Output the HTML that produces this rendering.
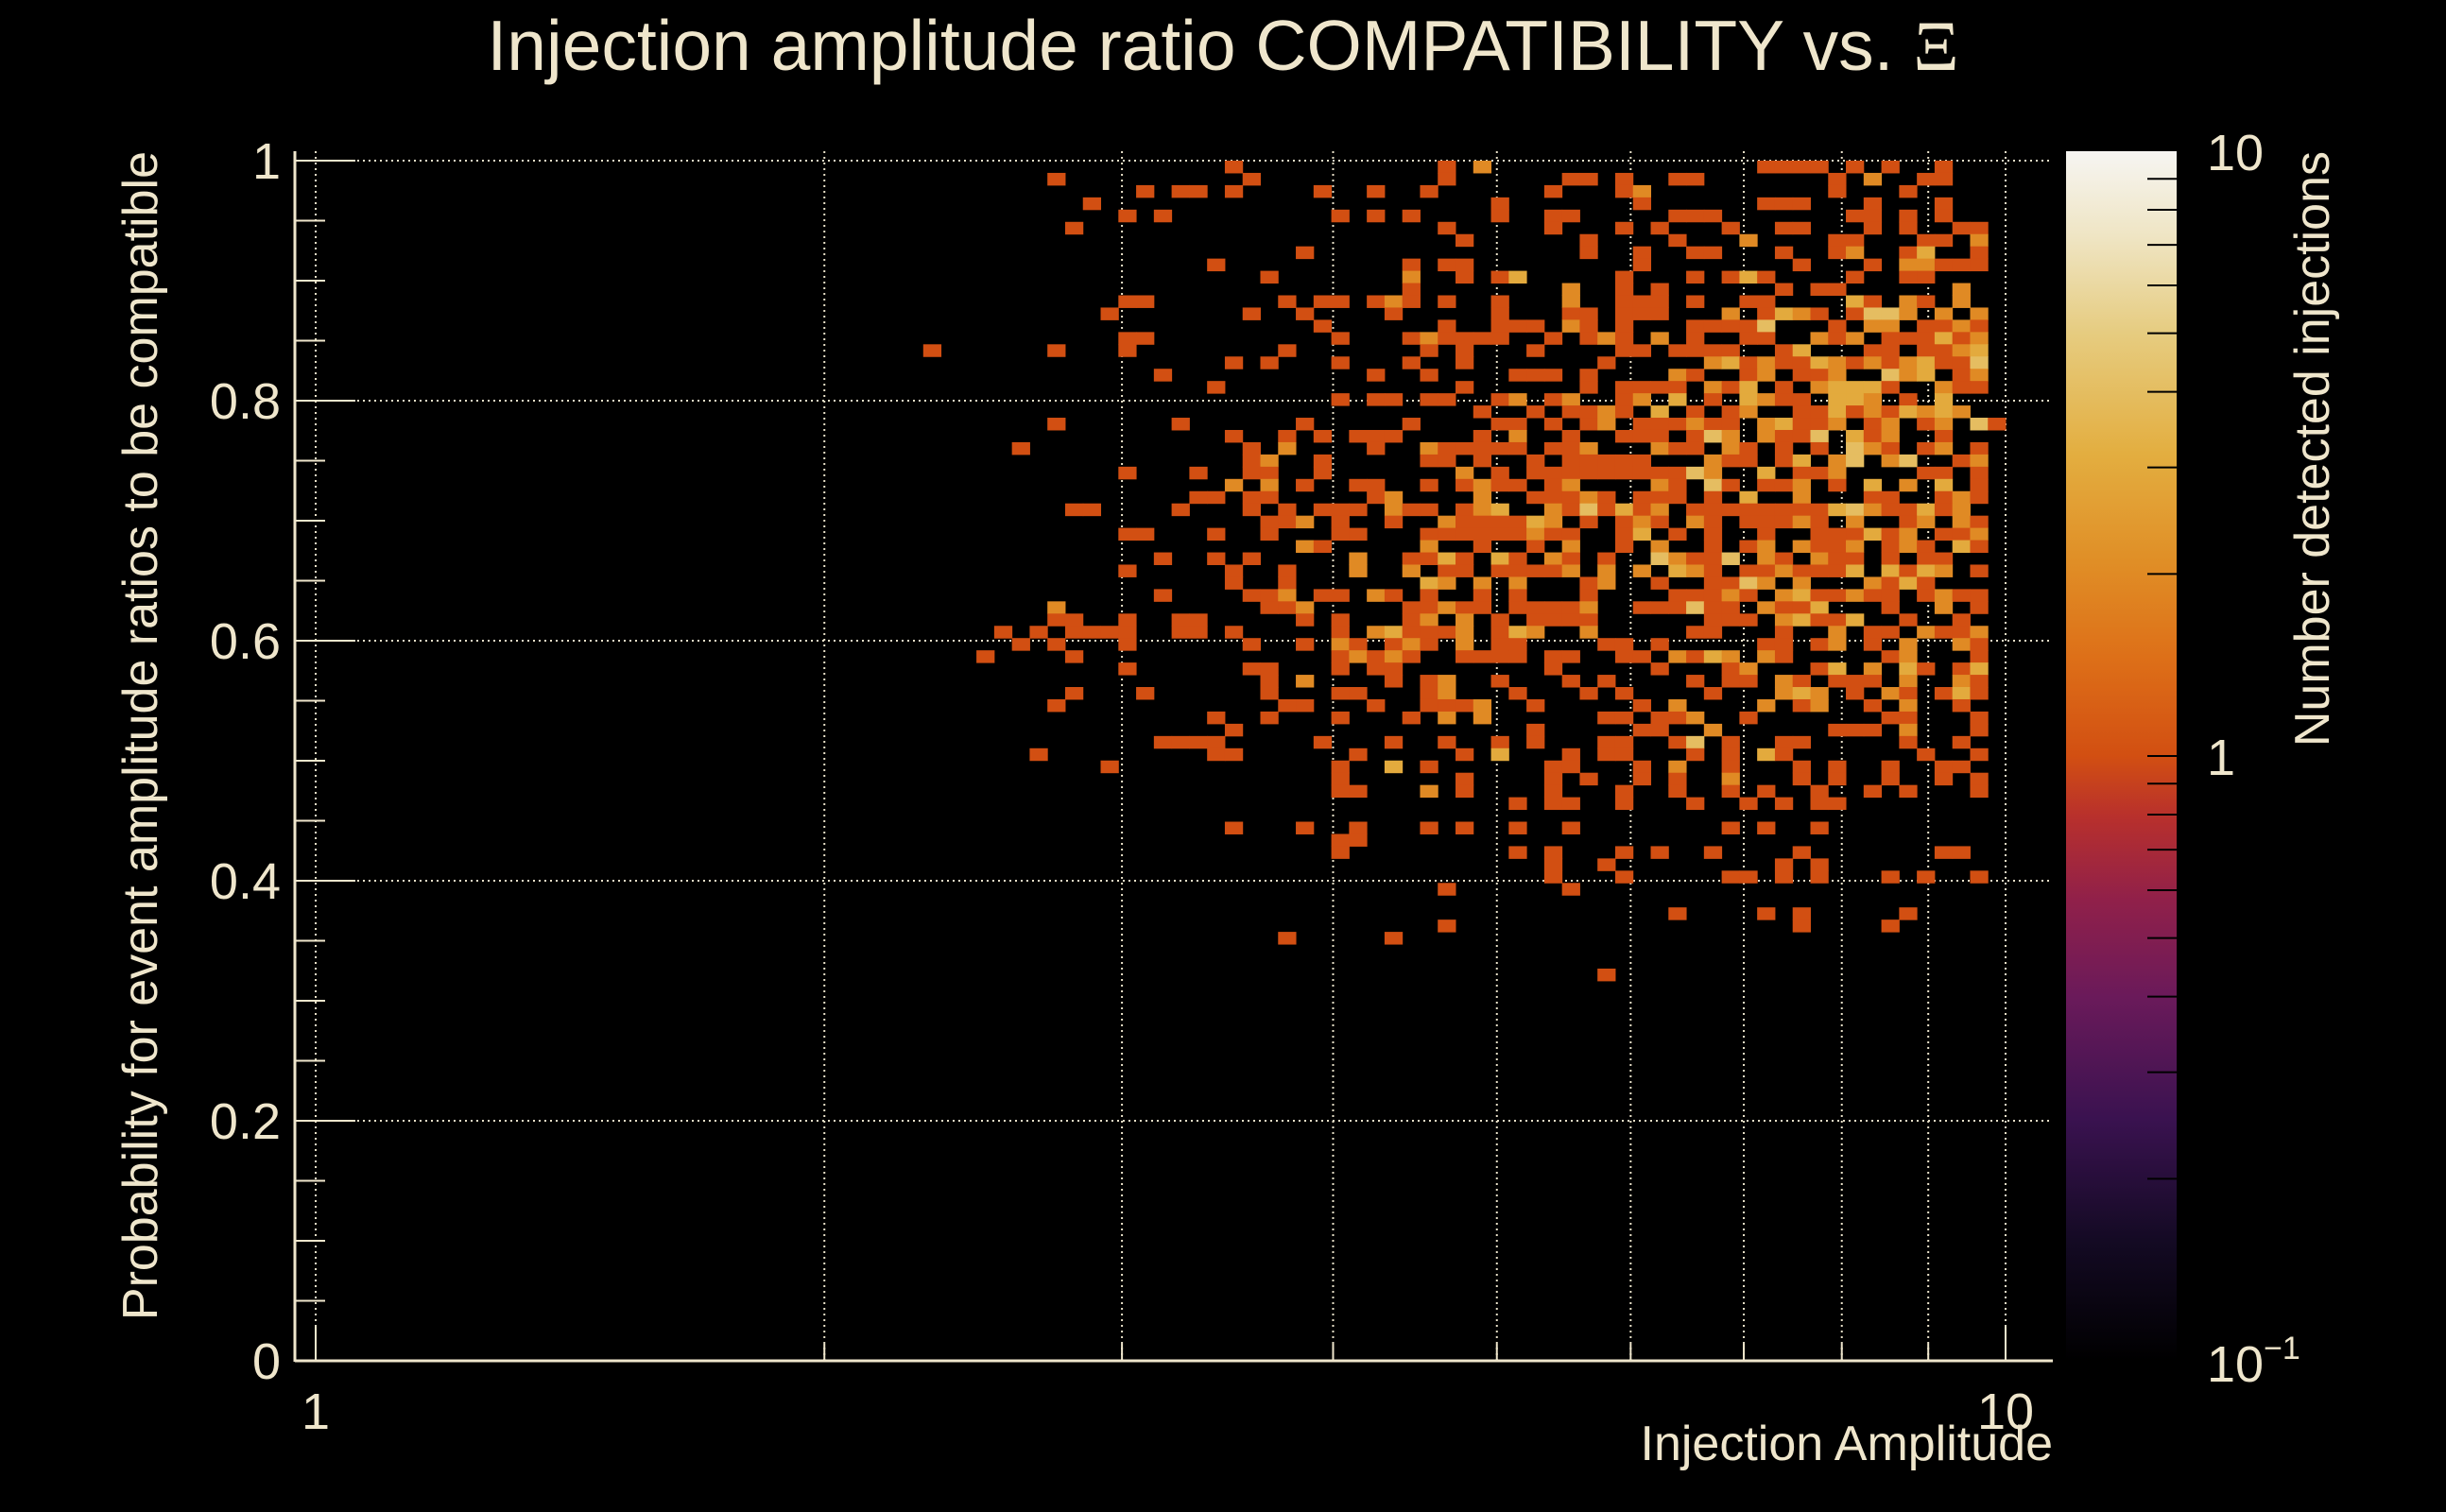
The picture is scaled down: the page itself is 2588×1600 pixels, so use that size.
<!DOCTYPE html>
<html><head><meta charset="utf-8"><style>
html,body{margin:0;padding:0;background:#000;}
svg{display:block;}
text{font-family:"Liberation Sans",sans-serif;fill:#efe6cc;}
</style></head><body>
<svg id="chart" xmlns="http://www.w3.org/2000/svg" width="2588" height="1600" viewBox="0 0 2588 1600">
<defs>
<linearGradient id="pal" x1="0" y1="1" x2="0" y2="0">
<stop offset="0" stop-color="#000000"/><stop offset="0.1" stop-color="#140a24"/><stop offset="0.2" stop-color="#3a1250"/>
<stop offset="0.3" stop-color="#6a1a5a"/><stop offset="0.38" stop-color="#90204a"/><stop offset="0.45" stop-color="#b8302c"/>
<stop offset="0.5" stop-color="#d24f12"/><stop offset="0.58" stop-color="#dd6f18"/><stop offset="0.66" stop-color="#e08e26"/>
<stop offset="0.75" stop-color="#e3ae40"/><stop offset="0.85" stop-color="#e6cc80"/><stop offset="0.93" stop-color="#efe5c4"/>
<stop offset="1" stop-color="#f6f5f2"/>
</linearGradient>
</defs>
<rect x="0" y="0" width="2588" height="1600" fill="#000"/>
<g id="grid"></g>
<g id="cells"></g>
<g id="axes"></g>
<text x="1294" y="74" font-size="75" text-anchor="middle">Injection amplitude ratio COMPATIBILITY vs.  <tspan font-family="Liberation Serif, serif">Ξ</tspan></text>
<text x="2172" y="1545" font-size="52" text-anchor="end">Injection Amplitude</text>
<text transform="translate(166,160) rotate(-90)" font-size="52" text-anchor="end">Probability for event amplitude ratios to be compatible</text>
<rect x="2186" y="160" width="117" height="1280" fill="url(#pal)"/>
<g id="cbticks"></g>
<text x="2335" y="180" font-size="54">10</text>
<text x="2335" y="820" font-size="54">1</text>
<text x="2335" y="1462" font-size="54">10<tspan font-size="34" dy="-24">−1</tspan></text>
<text transform="translate(2464,160) rotate(-90)" font-size="52" text-anchor="end">Number detected injections</text>
</svg>
<script>
// ---- data ----
const yTickValues = [0, 0.2, 0.4, 0.6, 0.8, 1];
const yTickLabels = ["0", "0.2", "0.4", "0.6", "0.8", "1"];
const xMajorValues = [1, 10];
const xMajorLabels = ["1", "10"];
const xGridValues = [1, 2, 3, 4, 5, 6, 7, 8, 9, 10];
const cbTickValues = [0.2,0.3,0.4,0.5,0.6,0.7,0.8,0.9,1,2,3,4,5,6,7,8,9];
// histogram binning (log10 x bins, linear y bins)
const xBinLog0 = 0.0025, xBinLogW = 0.0105;
const yBinTop = 1.0, yBinH = 0.0102;
// rowBins[m] = x-bin indices with entries in y-row m (row 0 at top); default count 1
const rowBins = [
[51,63,65,81,82,83,84,86,88,91],
[41,52,63,70,71,73,76,77,85,87,90,91],
[46,48,49,51,56,59,62,69,73,74,85,89],
[43,66,74,81,82,83,87,91],
[45,47,57,59,61,66,69,70,76,77,78,86,87,89,91],
[42,63,69,73,75,79,82,83,87,89,92,93],
[64,71,76,80,85,86,90,91,93],
[55,71,74,77,78,82,85,86,89,90,93],
[50,61,63,64,74,83,87,89,90,91,92,93],
[53,61,64,66,67,73,77,79,80,81,86,89,90],
[61,70,73,75,82,84,85,92],
[45,46,54,56,57,59,60,61,63,66,70,73,74,75,77,80,81,86,87,89,90,92],
[44,52,55,60,66,70,71,73,74,75,79,81,82,83,84,86,87,88,89,91,93],
[56,63,66,67,68,70,71,73,77,78,79,80,81,85,87,88,90,91,92,93],
[45,46,57,61,62,63,64,65,66,69,71,72,73,75,77,80,81,84,85,86,88,89,90,91,92,93],
[34,41,45,54,62,64,68,73,74,76,77,78,79,82,83,87,88,90,91,92,93],
[51,53,57,61,64,72,78,79,80,81,82,83,84,85,86,87,88,89,90,91,92,93],
[47,59,62,67,68,69,71,76,77,80,81,83,84,85,88,89,90,92,93],
[50,64,71,73,74,75,76,78,79,80,82,84,85,86,87,88,91,92,93],
[57,59,60,62,63,66,67,69,70,73,74,76,78,80,81,82,83,85,86,87,89,91],
[65,68,70,71,72,73,75,77,79,80,83,84,85,86,87,88,89,90,91,92],
[41,48,55,61,66,67,69,71,72,74,75,76,77,78,79,81,82,83,84,85,87,88,90,91,93,94],
[51,54,56,58,59,60,65,67,70,73,74,75,77,78,79,81,82,83,84,86,87,88,91],
[39,52,54,59,62,63,64,65,66,67,69,70,71,75,76,77,79,80,82,84,86,87,88,90,91,93],
[52,53,56,62,63,65,68,70,71,72,73,74,78,79,80,82,83,85,86,88,89,92,93],
[45,49,52,53,56,64,66,68,69,70,71,72,73,74,75,76,77,78,81,83,84,85,90,91,93],
[51,53,55,58,59,62,64,65,66,67,69,70,75,76,78,79,81,82,83,85,87,89,91,93],
[49,50,52,53,59,60,65,68,69,70,71,72,74,75,76,78,80,83,87,88,91,92,93],
[42,43,48,52,54,56,57,58,60,61,62,64,65,66,69,70,71,72,73,74,75,77,78,79,80,81,82,83,84,85,86,87,88,89,90,91,92],
[53,54,55,57,60,63,64,65,66,67,68,69,71,73,74,75,77,78,80,81,82,83,84,86,89,90,92,93],
[45,46,50,53,57,58,62,63,64,65,66,67,68,69,70,73,74,76,78,81,84,85,86,87,88,89,91,92,93],
[55,56,62,65,68,70,73,75,78,80,81,83,84,85,86,88,89,90,92,93],
[47,50,52,58,61,62,63,64,66,67,69,70,72,75,76,77,78,79,81,82,84,85,86,88,90,91],
[45,51,54,58,61,63,64,66,67,68,69,70,72,74,76,77,78,80,81,82,83,84,85,86,88,89,90,91,93],
[51,54,62,63,65,67,71,72,75,78,79,80,81,83,87,88,89,90],
[47,52,53,54,56,57,59,60,62,65,67,71,76,77,78,79,80,82,83,84,85,86,87,88,90,91,92,93],
[41,53,54,55,61,62,63,64,65,67,68,69,70,71,74,75,76,77,78,79,81,82,83,84,88,91,93],
[41,42,45,48,49,55,57,61,62,64,66,68,69,70,71,78,79,80,82,83,84,85,86,89,92],
[38,40,42,43,44,45,48,49,51,57,59,60,61,62,63,64,66,67,68,71,77,78,82,85,87,88,90,91,92,93],
[39,41,45,52,55,57,58,60,61,62,64,66,67,72,73,75,81,82,84,85,87,89,92,93],
[37,42,57,58,59,60,61,64,65,66,67,69,70,73,74,76,77,78,79,81,82,88,89,93],
[45,52,53,57,59,60,69,75,79,80,84,85,87,89,90,92,93],
[53,55,60,62,63,66,70,72,77,79,80,82,83,85,86,87,89,92,93],
[42,46,53,57,58,62,63,67,71,73,78,82,83,84,86,88,89,91,92,93],
[41,54,55,59,62,63,64,65,68,74,76,81,83,84,87,89,92],
[50,53,57,61,63,65,72,73,75,76,77,80,88,89,93],
[51,68,74,75,78,85,86,87,89,93],
[47,48,49,50,56,60,63,66,68,72,73,76,77,79,82,83,89,92],
[40,50,51,58,64,66,70,72,73,77,79,81,82,90,93],
[44,57,60,62,69,70,74,76,79,83,85,88,91,92],
[57,64,69,71,74,76,79,83,85,88,91,93],
[57,58,62,64,69,73,76,79,81,84,87,89,93],
[67,69,70,73,77,80,82,84,85],
[],
[51,55,58,62,64,67,70,79,81,84],
[57,58],
[57,67,69,73,75,78,83,91,92],
[69,72,82,84],
[69,73,79,80,82,84,88,90,93],
[63,70],
[],
[76,81,83,89],
[63,83,88],
[54,60],
[],
[],
[72]
];
// rowHot[m] = [xBin, count] pairs for cells with more than one entry
const rowHot = [
[[65,2]],[[87,2]],[[74,2]],[],[],[],
[[80,2],[93,2]],
[[86,2],[90,3]],
[[89,2],[90,2]],
[[61,2],[67,3],[80,3]],
[[70,2],[92,2]],
[[60,2],[70,2],[86,3],[89,2],[92,2]],
[[79,2],[82,3],[83,2],[87,4],[88,4],[89,2],[91,2],[93,2]],
[[70,2],[81,4],[87,2],[88,2],[92,2]],
[[62,2],[72,2],[75,2],[84,2],[86,2],[91,3],[93,2]],
[[83,3],[92,2],[93,3]],
[[78,2],[79,3],[81,2],[84,3],[85,2],[87,2],[89,2],[90,3],[93,4]],
[[76,2],[81,2],[85,2],[88,4],[89,2],[90,3],[93,2]],
[[78,2],[80,3],[84,2],[85,3],[86,3],[87,3],[91,2]],
[[67,2],[70,2],[74,2],[76,3],[80,3],[81,2],[85,3],[86,3],[87,2],[91,3]],
[[72,2],[75,3],[80,2],[85,3],[87,2],[89,3],[90,2],[91,3],[92,2]],
[[72,2],[77,2],[81,2],[82,3],[85,2],[88,2],[91,2],[93,4]],
[[67,2],[78,4],[79,2],[81,2],[84,4],[86,3],[88,2]],
[[54,2],[62,2],[71,2],[75,2],[79,2],[86,4],[87,2],[91,2]],
[[53,2],[78,2],[83,3],[85,2],[86,4],[88,2],[89,4],[93,2]],
[[64,2],[77,4],[78,2],[81,3],[85,2]],
[[51,2],[53,2],[65,2],[70,2],[75,2],[78,4],[83,2],[87,3],[89,2],[91,3]],
[[60,2],[65,2],[71,2],[80,3],[83,2],[92,2]],
[[60,2],[65,2],[66,3],[69,2],[71,4],[73,3],[75,2],[85,3],[86,4],[87,2],[90,3],[92,2]],
[[55,2],[63,2],[68,3],[69,2],[74,2],[77,2],[83,2],[86,2],[90,2],[92,2]],
[[68,2],[74,3],[87,3],[89,2],[93,2]],
[[55,2],[62,2],[70,2],[75,2],[81,2],[83,2],[86,2],[89,2],[92,3]],
[[58,2],[63,3],[66,3],[69,2],[75,4],[76,2],[79,4],[81,2],[84,2]],
[[58,2],[61,2],[70,2],[72,2],[74,2],[76,3],[77,2],[82,2],[86,3],[88,3],[90,3],[91,2]],
[[62,3],[63,2],[65,2],[67,2],[72,2],[80,4],[81,2],[83,2],[87,2],[89,3]],
[[54,2],[59,2],[79,2],[82,2],[83,3],[86,2],[91,2]],
[[41,2],[55,2],[63,2],[71,2],[77,4],[81,2],[84,3],[91,2]],
[[62,2],[64,2],[82,2],[83,3],[86,3]],
[[59,2],[60,3],[64,2],[67,3],[68,2],[71,2],[85,2],[90,2],[93,2]],
[[57,2],[61,2],[64,2],[85,2],[89,2],[92,2]],
[[58,2],[60,2],[76,2],[78,3],[79,2],[81,2],[89,2]],
[[80,2],[85,3],[87,2],[89,3],[93,3]],
[[55,2],[63,2],[82,2],[89,2],[92,2]],
[[63,2],[82,2],[83,3],[84,2],[88,2],[92,3]],
[[65,2],[76,2],[81,2],[84,2],[89,2]],
[[63,2],[65,2],[77,2]],
[[78,2],[89,2]],
[[77,4]],
[[66,3],[81,3]],
[[60,3],[76,2]],
[[79,2]],
[[62,2]]
];

// ---- scales ----
const NS = "http://www.w3.org/2000/svg";
const X0 = 334, XDEC = 1788;
const Y0 = 1440, YUNIT = 1270;
const FL = 312, FR = 2172, FT = 160, FB = 1440;
const CB_TOP = 160, CB_BOT = 1440, CB_L = 2186, CB_R = 2303;
function xLogPx(lg){ return X0 + XDEC * lg; }
function xPx(v){ return xLogPx(Math.log10(v)); }
function yPx(v){ return Y0 - YUNIT * v; }
function cbPx(v){ return CB_BOT - (Math.log10(v) + 1) / 2 * (CB_BOT - CB_TOP); }
const palStops = [[0,"#000000"],[0.1,"#140a24"],[0.2,"#3a1250"],[0.3,"#6a1a5a"],[0.38,"#90204a"],[0.45,"#b8302c"],[0.5,"#d24f12"],[0.58,"#dd6f18"],[0.66,"#e08e26"],[0.75,"#e3ae40"],[0.85,"#e6cc80"],[0.93,"#efe5c4"],[1,"#f6f5f2"]];
function hex(h){ return [1,3,5].map(i=>parseInt(h.substr(i,2),16)); }
function colorFor(c){
  let f = Math.max(0, Math.min(1, (Math.log10(c) + 1) / 2));
  for (let k = 1; k < palStops.length; k++){
    if (f <= palStops[k][0]){
      const a = palStops[k-1], b = palStops[k];
      const t = (f - a[0]) / (b[0] - a[0]);
      const ca = hex(a[1]), cb = hex(b[1]);
      return "rgb(" + ca.map((v,i)=>Math.round(v + (cb[i]-v)*t)).join(",") + ")";
    }
  }
  return palStops[palStops.length-1][1];
}
function mk(tag, attrs, parent){
  const e = document.createElementNS(NS, tag);
  for (const k in attrs) e.setAttribute(k, attrs[k]);
  parent.appendChild(e);
  return e;
}

// ---- grid ----
const grid = document.getElementById("grid");
xGridValues.forEach(v=>{
  const l = mk("line",{x1:xPx(v),x2:xPx(v),y1:FT,y2:FB,stroke:"#e8e0c8","stroke-width":2,"stroke-dasharray":"2 4"},grid);
  
  
});
yTickValues.slice(1).forEach(v=>{
  const l = mk("line",{x1:FL,x2:FR,y1:yPx(v),y2:yPx(v),stroke:"#e8e0c8","stroke-width":2,"stroke-dasharray":"2 4"},grid);
  
  
});

// ---- cells ----
const cellsG = document.getElementById("cells");
rowBins.forEach((bins, m)=>{
  const hot = {};
  (rowHot[m] || []).forEach(p=>{ hot[p[0]] = p[1]; });
  const yTopV = yBinTop - m * yBinH, yBotV = yBinTop - (m + 1) * yBinH;
  const drawn = {};
  const all = bins.slice();
  Object.keys(hot).forEach(b=>{ if (all.indexOf(+b) < 0) all.push(+b); });
  all.forEach(b=>{
    if (drawn[b]) return; drawn[b] = 1;
    const c = hot[b] || 1;
    const x1 = xLogPx(xBinLog0 + b * xBinLogW), x2 = xLogPx(xBinLog0 + (b + 1) * xBinLogW);
    const y1 = yPx(yTopV), y2 = yPx(yBotV);
    const r = mk("rect",{x:x1.toFixed(2),y:y1.toFixed(2),width:(x2-x1+0.5).toFixed(2),height:(y2-y1+0.5).toFixed(2),fill:colorFor(c)},cellsG);
    
    
  });
});

// ---- axes ----
const axes = document.getElementById("axes");
let a = mk("line",{x1:FL,x2:FL,y1:FT,y2:FB+1,stroke:"#efe6cc","stroke-width":3},axes);


a = mk("line",{x1:FL,x2:FR,y1:FB,y2:FB,stroke:"#efe6cc","stroke-width":3},axes);


for (let k = 0; k <= 20; k++){
  const v = k * 0.05;
  const major = (k % 4 === 0);
  const t = mk("line",{x1:FL,x2:FL+(major?64:32),y1:yPx(v),y2:yPx(v),stroke:"#efe6cc","stroke-width":2},axes);
  
  
}
yTickValues.forEach((v,i)=>{
  const t = mk("text",{x:297,y:yPx(v)+19,"font-size":54,"text-anchor":"end"},axes);
  t.textContent = yTickLabels[i];
  
  
});
xGridValues.forEach(v=>{
  const major = xMajorValues.indexOf(v) >= 0;
  const t = mk("line",{x1:xPx(v),x2:xPx(v),y1:FB,y2:FB-(major?36:18),stroke:"#efe6cc","stroke-width":2},axes);
  
  
});
xMajorValues.forEach((v,i)=>{
  const t = mk("text",{x:xPx(v),y:1512,"font-size":54,"text-anchor":"middle"},axes);
  t.textContent = xMajorLabels[i];
  
  
});

// ---- color scale ticks ----
const cbt = document.getElementById("cbticks");
cbTickValues.forEach(v=>{
  const t = mk("line",{x1:CB_R-31,x2:CB_R,y1:cbPx(v),y2:cbPx(v),stroke:"#000","stroke-width":2},cbt);
  
  
});
</script>
</body></html>
